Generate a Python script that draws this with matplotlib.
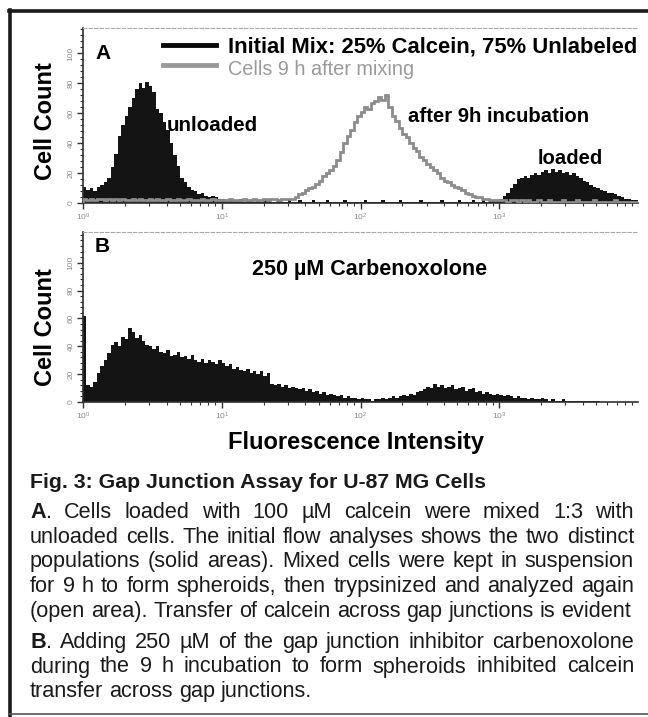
import numpy as np
import matplotlib
matplotlib.use('Agg')
import matplotlib.pyplot as plt
from matplotlib.ticker import MultipleLocator, LogLocator, NullFormatter
from matplotlib.lines import Line2D

plt.rcParams.update({'font.family': ['Liberation Sans', 'DejaVu Sans']})

# histogram counts, 160 log bins from 10^0 to 10^4 (40 per decade)
initial_mix = [
    11, 9, 10, 8, 11, 12, 14, 17, 24, 33, 45, 52, 58, 64, 70, 76, 80, 77, 81, 78,
    74, 63, 60, 54, 49, 40, 32, 25, 17, 14, 11, 9, 8, 6, 7, 5, 4, 5, 4, 3,
    3, 2, 3, 2, 2, 3, 1, 2, 2, 1, 2, 1, 2, 2, 1, 1, 2, 1, 1, 2,
    1, 1, 2, 1, 1, 1, 2, 1, 1, 1, 2, 1, 1, 1, 1, 2, 1, 1, 1, 1,
    1, 2, 1, 1, 1, 1, 2, 1, 1, 1, 1, 2, 1, 1, 1, 1, 1, 2, 1, 1,
    1, 1, 1, 2, 1, 1, 1, 1, 2, 1, 1, 1, 2, 1, 1, 2, 1, 2, 2, 2,
    3, 5, 7, 10, 13, 16, 17, 18, 17, 19, 20, 19, 21, 22, 20, 23, 21, 22, 20, 21,
    19, 20, 18, 17, 15, 14, 12, 11, 10, 9, 8, 7, 7, 6, 5, 4, 3, 3, 2, 2,
]
after_9h = [
    3, 2, 3, 2, 3, 3, 2, 3, 2, 3, 2, 3, 2, 2, 3, 2, 3, 2, 2, 3,
    2, 3, 2, 2, 3, 2, 2, 3, 2, 2, 3, 2, 2, 2, 3, 2, 2, 3, 2, 2,
    2, 2, 3, 2, 2, 2, 3, 2, 2, 3, 2, 2, 3, 2, 3, 3, 2, 3, 3, 3,
    3, 4, 6, 7, 9, 10, 11, 13, 15, 18, 20, 22, 25, 29, 34, 40, 45, 49, 54, 58,
    61, 64, 63, 67, 68, 71, 69, 72, 64, 58, 55, 50, 46, 44, 40, 37, 35, 31, 29, 26,
    24, 22, 20, 17, 15, 14, 12, 11, 10, 9, 7, 6, 5, 4, 4, 3, 3, 2, 2, 2,
    2, 2, 1, 2, 2, 1, 2, 1, 2, 1, 1, 2, 1, 1, 2, 1, 1, 1, 2, 1,
    1, 1, 2, 1, 1, 1, 1, 2, 1, 1, 1, 1, 1, 2, 1, 1, 1, 1, 1, 1,
]
carbenoxolone = [
    62, 12, 11, 14, 21, 26, 30, 35, 41, 43, 40, 47, 45, 53, 50, 46, 48, 44, 41, 40,
    38, 40, 36, 35, 37, 33, 34, 36, 32, 33, 31, 34, 30, 29, 31, 28, 30, 29, 27, 30,
    28, 26, 27, 24, 25, 23, 22, 24, 21, 22, 20, 22, 19, 21, 13, 12, 13, 11, 12, 10,
    11, 10, 9, 10, 8, 9, 7, 8, 6, 7, 5, 6, 5, 4, 5, 3, 4, 3, 3, 2,
    3, 2, 2, 1, 2, 2, 3, 2, 3, 4, 3, 4, 5, 4, 6, 5, 7, 8, 9, 11,
    10, 13, 11, 12, 10, 11, 12, 9, 10, 11, 8, 9, 10, 7, 8, 6, 7, 6, 5, 6,
    5, 4, 5, 4, 3, 4, 3, 3, 2, 3, 2, 2, 3, 2, 1, 2, 1, 1, 2, 1,
    1, 1, 1, 0.5, 1, 0.5, 0.5, 1, 0.5, 0, 0, 0, 0, 0, 0, 0, 0, 0, 0, 0,
]
x_ticks = [1, 10, 100, 1000]
y_ticks = [0, 20, 40, 60, 80, 100]

caption_title = 'Fig. 3: Gap Junction Assay for U-87 MG Cells'
caption_a = [
    'A. Cells loaded with 100 µM calcein were mixed 1:3 with',
    'unloaded cells. The initial flow analyses shows the two distinct',
    'populations (solid areas). Mixed cells were kept in suspension',
    'for 9 h to form spheroids, then trypsinized and analyzed again',
    '(open area). Transfer of calcein across gap junctions is evident',
]
caption_b = [
    'B. Adding 250 µM of the gap junction inhibitor carbenoxolone',
    'during the 9 h incubation to form spheroids inhibited calcein',
    'transfer across gap junctions.',
]

W, H = 648, 717
def fx(x):
    return x / W
def fy(y):
    return 1 - y / H

edges = np.logspace(0, 4, len(initial_mix) + 1)

fig = plt.figure(figsize=(W / 100, H / 100), dpi=100)
axA = fig.add_axes([fx(83), fy(203), (638 - 83) / W, (203 - 28) / H])
axB = fig.add_axes([fx(83), fy(402), (638 - 83) / W, (402 - 232) / H])

def style(ax, ymax):
    ax.set_xscale('log')
    ax.set_xlim(1, 1e4)
    ax.set_ylim(0, ymax)
    ax.spines['right'].set_visible(False)
    ax.spines['top'].set_color('#a8a8a8')
    ax.spines['top'].set_linewidth(0.8)
    ax.spines['top'].set_linestyle((0, (3, 2)))
    for s in ['left', 'bottom']:
        ax.spines[s].set_linewidth(1.2)
        ax.spines[s].set_color('#303030')
    ax.set_xticks(x_ticks)
    ax.set_yticks(y_ticks)
    ax.yaxis.set_minor_locator(MultipleLocator(4))
    ax.xaxis.set_minor_locator(LogLocator(subs=np.arange(2, 10)))
    ax.xaxis.set_minor_formatter(NullFormatter())
    ax.tick_params(which='major', length=4, width=1, color='#303030',
                   labelsize=6, labelcolor='#8a8a8a', pad=2)
    ax.tick_params(which='minor', length=2.5, width=0.8, color='#303030')
    for lbl in ax.get_yticklabels():
        lbl.set_rotation(90)
        lbl.set_va('center')

style(axA, 117)
style(axB, 122)

axA.stairs(initial_mix, edges, fill=True, color='#141414', zorder=2)
axA.stairs(after_9h, edges, color='#8c8c8c', lw=2, zorder=3)
axB.stairs(carbenoxolone, edges, fill=True, color='#141414', zorder=2)

# frame around the figure
fig.add_artist(Line2D([fx(10), fx(10)], [fy(10), fy(717)], color='#1a1a1a', lw=2.6))
fig.add_artist(Line2D([fx(9), 1.0], [fy(11), fy(11)], color='#1a1a1a', lw=2.6))
fig.add_artist(Line2D([fx(9), 1.0], [fy(714), fy(714)], color='#555555', lw=1.2))

# axis labels
for yc in [121, 327]:
    fig.text(fx(46), fy(yc), 'Cell Count', rotation=90, ha='center', va='center',
             fontsize=17, fontweight='bold')
fig.text(fx(356), fy(449), 'Fluorescence Intensity', ha='center', va='baseline',
         fontsize=17, fontweight='bold')

# panel A annotations
fig.text(fx(95), fy(59), 'A', fontsize=15, fontweight='bold', va='baseline')
fig.add_artist(Line2D([fx(163), fx(216)], [fy(45), fy(45)], color='#0a0a0a', lw=3.5))
fig.add_artist(Line2D([fx(163), fx(216)], [fy(65), fy(65)], color='#9a9a9a', lw=3.5))
fig.text(fx(228), fy(53), 'Initial Mix: 25% Calcein, 75% Unlabeled', fontsize=15.8,
         fontweight='bold', va='baseline')
fig.text(fx(228), fy(75), 'Cells 9 h after mixing', fontsize=14.3, color='#9a9a9a',
         va='baseline')
fig.text(fx(167), fy(131), 'unloaded', fontsize=14.8, fontweight='bold', va='baseline')
fig.text(fx(408), fy(122), 'after 9h incubation', fontsize=14.6, fontweight='bold', va='baseline')
fig.text(fx(538), fy(164), 'loaded', fontsize=14.6, fontweight='bold', va='baseline')

# panel B annotations
fig.text(fx(95), fy(252), 'B', fontsize=15, fontweight='bold', va='baseline')
fig.text(fx(370), fy(275), '250 µM Carbenoxolone', fontsize=15.5, fontweight='bold',
         ha='center', va='baseline')

# caption
fig.text(fx(30), fy(488), caption_title, fontsize=15.3, fontweight='bold', va='baseline',
         color='#1a1a1a')

renderer = fig.canvas.get_renderer()

def put_line(line, y, justify, size=15.6, x0=30, x1=634):
    words = line.split(' ')
    arts = []
    for i, w in enumerate(words):
        if i == 0 and w in ('A.', 'B.'):
            arts.append(fig.text(0, fy(y), w[0], fontsize=size, fontweight='bold',
                                 va='baseline', color='#1a1a1a'))
            arts.append(fig.text(0, fy(y), '.', fontsize=size, va='baseline', color='#1a1a1a'))
        else:
            arts.append(fig.text(0, fy(y), w, fontsize=size, va='baseline', color='#1a1a1a'))
    widths = [a.get_window_extent(renderer).width for a in arts]
    split_first = len(arts) > len(words)
    space = size * 0.278 * 100 / 72
    n_gaps = len(words) - 1
    if justify and n_gaps > 0:
        gap = (x1 - x0 - sum(widths)) / n_gaps
    else:
        gap = space
    x = x0
    for i, (a, w) in enumerate(zip(arts, widths)):
        a.set_x(fx(x))
        x += w
        if not (i == 0 and split_first):
            x += gap

for k, line in enumerate(caption_a):
    put_line(line, 518 + 24.7 * k, justify=(k < len(caption_a) - 1))
for k, line in enumerate(caption_b):
    put_line(line, 648 + 24.5 * k, justify=(k < len(caption_b) - 1))

fig.savefig('out.png', dpi=100)
